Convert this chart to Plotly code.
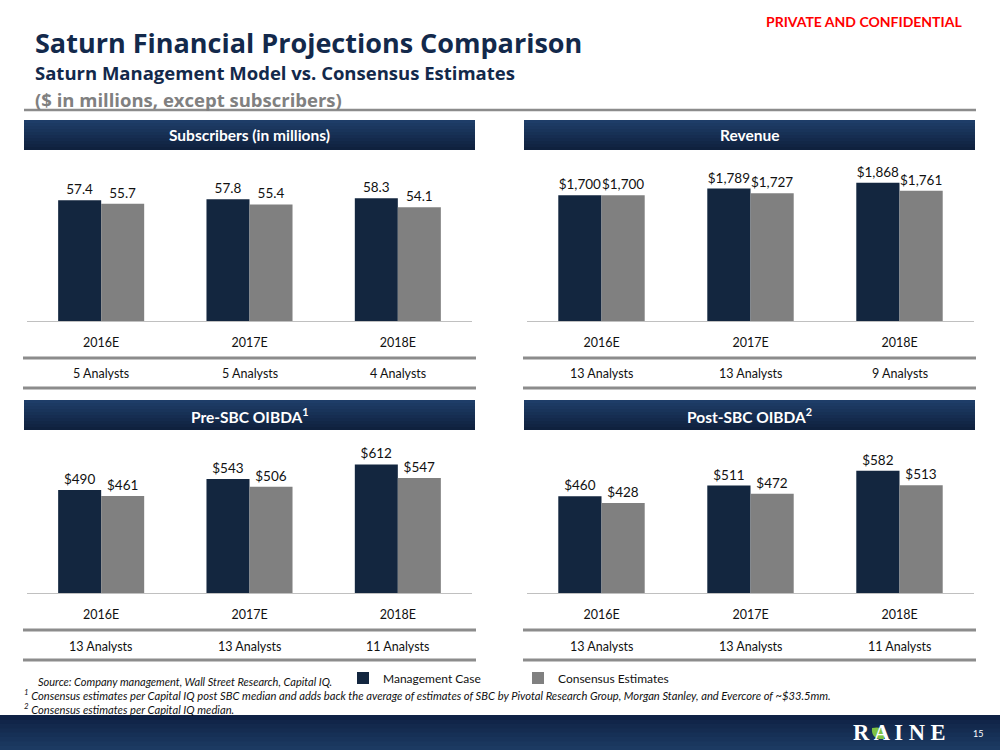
import plotly.graph_objects as go

# ---------------- data ----------------
years = ["2016E", "2017E", "2018E"]

subs_mgmt = [57.4, 57.8, 58.3]
subs_cons = [55.7, 55.4, 54.1]
rev_mgmt = [1700, 1789, 1868]
rev_cons = [1700, 1727, 1761]
pre_mgmt = [490, 543, 612]
pre_cons = [461, 506, 547]
post_mgmt = [460, 511, 582]
post_cons = [428, 472, 513]

subs_analysts = ["5 Analysts", "5 Analysts", "4 Analysts"]
rev_analysts = ["13 Analysts", "13 Analysts", "9 Analysts"]
pre_analysts = ["13 Analysts", "13 Analysts", "11 Analysts"]
post_analysts = ["13 Analysts", "13 Analysts", "11 Analysts"]

series_names = ["Management Case", "Consensus Estimates"]

# ---------------- styling ----------------
W, H = 1000, 750
NAVY = "#13263F"
GREY = "#808080"
FONT = "Lato"
TFONT = "Open Sans"


def px(x):
    return x / W


def py(y):
    return 1 - y / H


def hexmix(c1, c2, t):
    a = [int(c1[i:i + 2], 16) for i in (1, 3, 5)]
    b = [int(c2[i:i + 2], 16) for i in (1, 3, 5)]
    return "#%02x%02x%02x" % tuple(round(a[k] + (b[k] - a[k]) * t) for k in range(3))


panels = [
    dict(s="", mg=subs_mgmt, co=subs_cons, an=subs_analysts, fmt="%{y:.1f}",
         title="Subscribers (in millions)", x0=27, x1=472, bx0=24, bx1=475,
         hy0=120, hy1=150, top=160, base=321, ymax=76.5, l1=358, ay=374, l2=388),
    dict(s="2", mg=rev_mgmt, co=rev_cons, an=rev_analysts, fmt="$%{y:,.0f}",
         title="Revenue", x0=527, x1=974, bx0=524, bx1=975,
         hy0=120, hy1=150, top=160, base=321, ymax=2175, l1=358, ay=374, l2=388),
    dict(s="3", mg=pre_mgmt, co=pre_cons, an=pre_analysts, fmt="$%{y:,.0f}",
         title="Pre-SBC OIBDA<sup>1</sup>", x0=27, x1=472, bx0=24, bx1=475,
         hy0=400, hy1=430, top=440, base=593, ymax=728, l1=630, ay=646, l2=660),
    dict(s="4", mg=post_mgmt, co=post_cons, an=post_analysts, fmt="$%{y:,.0f}",
         title="Post-SBC OIBDA<sup>2</sup>", x0=527, x1=974, bx0=524, bx1=975,
         hy0=400, hy1=430, top=440, base=593, ymax=728, l1=630, ay=646, l2=660),
]

fig = go.Figure()
shapes = []
annotations = []
layout_axes = {}

for i, p in enumerate(panels):
    s = p["s"]
    for vals, name, color in ((p["mg"], series_names[0], NAVY), (p["co"], series_names[1], GREY)):
        fig.add_trace(go.Bar(
            x=years, y=vals, name=name, marker=dict(color=color, line=dict(width=0)),
            xaxis="x" + s, yaxis="y" + s, legendgroup=name, showlegend=(i == 0),
            texttemplate=p["fmt"], textposition="outside", cliponaxis=False,
            textfont=dict(size=13.5, color="#111111", family=FONT), hoverinfo="skip",
        ))
    layout_axes["xaxis" + s] = dict(
        domain=[px(p["x0"]), px(p["x1"])], anchor="y" + s, showline=True,
        linecolor="#c0c0c0", linewidth=1, ticks="outside", ticklen=10,
        tickcolor="rgba(0,0,0,0)", tickfont=dict(size=12.5, color="#111111", family=FONT),
        showgrid=False, zeroline=False, fixedrange=True,
    )
    layout_axes["yaxis" + s] = dict(
        domain=[py(p["base"]), py(p["top"])], anchor="x" + s, range=[0, p["ymax"]],
        visible=False, fixedrange=True,
    )
    # header bar with vertical gradient
    n = 10
    h0, h1 = p["hy0"], p["hy1"]
    for k in range(n):
        ya = h0 + (h1 - h0) * k / n
        yb = min(h1, h0 + (h1 - h0) * (k + 1) / n + 1)
        shapes.append(dict(type="rect", xref="paper", yref="paper",
                           x0=px(p["bx0"]), x1=px(p["bx1"]), y0=py(yb), y1=py(ya),
                           fillcolor=hexmix("#1e3d68", "#0f213e", k / (n - 1)),
                           line=dict(width=0), layer="below"))
    annotations.append(dict(xref="paper", yref="paper", x=px((p["bx0"] + p["bx1"]) / 2),
                            y=py((h0 + h1) / 2), text="<b>" + p["title"] + "</b>",
                            showarrow=False, xanchor="center", yanchor="middle",
                            font=dict(size=15.5, color="white", family=FONT)))
    # separator lines
    for ly in (p["l1"], p["l2"]):
        shapes.append(dict(type="line", xref="paper", yref="paper",
                           x0=px(p["bx0"] - 1), x1=px(p["bx1"] + 1), y0=py(ly), y1=py(ly),
                           line=dict(color="#8c8c8c", width=3)))
    # analyst counts
    for yr, txt in zip(years, p["an"]):
        annotations.append(dict(xref="x" + s, yref="paper", x=yr, y=py(p["ay"]),
                                text=txt, showarrow=False, xanchor="center", yanchor="middle",
                                font=dict(size=12.5, color="#111111", family=FONT)))

# ---------------- titles ----------------
annotations += [
    dict(xref="paper", yref="paper", x=px(33), y=py(42), xanchor="left", yanchor="middle",
         text="<b>Saturn Financial Projections Comparison</b>", showarrow=False,
         font=dict(size=27, color="#13294B", family=TFONT)),
    dict(xref="paper", yref="paper", x=px(33), y=py(73), xanchor="left", yanchor="middle",
         text="<b>Saturn Management Model vs. Consensus Estimates</b>", showarrow=False,
         font=dict(size=18.5, color="#13294B", family=TFONT)),
    dict(xref="paper", yref="paper", x=px(33), y=py(99), xanchor="left", yanchor="middle",
         text="<b>($ in millions, except subscribers)</b>", showarrow=False,
         font=dict(size=18.5, color="#808080", family=TFONT)),
    dict(xref="paper", yref="paper", x=px(964), y=py(22), xanchor="right", yanchor="middle",
         text="<b>PRIVATE AND CONFIDENTIAL</b>", showarrow=False,
         font=dict(size=14, color="#FF0000", family=FONT)),
    dict(xref="paper", yref="paper", x=px(36), y=py(681), xanchor="left", yanchor="middle",
         text="<i>Source: Company management, Wall Street Research, Capital IQ.</i>", showarrow=False,
         font=dict(size=11, color="#111111", family=FONT)),
    dict(xref="paper", yref="paper", x=px(22), y=py(694), xanchor="left", yanchor="middle",
         text="<i><sup>1</sup> Consensus estimates per Capital IQ post SBC median and adds back the average of "
              "estimates of SBC by Pivotal Research Group, Morgan Stanley, and Evercore of ~$33.5mm.</i>",
         showarrow=False, font=dict(size=11.2, color="#111111", family=FONT)),
    dict(xref="paper", yref="paper", x=px(22), y=py(708), xanchor="left", yanchor="middle",
         text="<i><sup>2</sup> Consensus estimates per Capital IQ median.</i>",
         showarrow=False, font=dict(size=11.2, color="#111111", family=FONT)),
    dict(xref="paper", yref="paper", x=px(899), y=py(732), xanchor="center", yanchor="middle",
         text="<b>R A I N E</b>", showarrow=False,
         font=dict(size=22.5, color="white", family="Liberation Serif")),
    dict(xref="paper", yref="paper", x=px(978), y=py(733), xanchor="center", yanchor="middle",
         text="15", showarrow=False, font=dict(size=9, color="white", family=FONT)),
]

# subtitle underline
shapes.append(dict(type="line", xref="paper", yref="paper", x0=px(24), x1=px(976),
                   y0=py(110), y1=py(110), line=dict(color="#8c8c8c", width=2.5)))

# footer bar gradient
n = 8
for k in range(n):
    ya = 715 + 35 * k / n
    yb = min(750, 715 + 35 * (k + 1) / n + 1.5)
    shapes.append(dict(type="rect", xref="paper", yref="paper", x0=0, x1=1,
                       y0=py(yb), y1=py(ya), fillcolor=hexmix("#0f2245", "#1c3a62", k / (n - 1)),
                       line=dict(width=0), layer="below"))

# leaf on the logo
leaf = "M {a},{b} Q {c},{d} {e},{f} Q {g},{h} {a},{b} Z".format(
    a=px(872), b=py(728), c=px(887), d=py(725), e=px(884), f=py(739), g=px(871), h=py(740))
shapes.append(dict(type="path", xref="paper", yref="paper", path=leaf,
                   fillcolor="#7DC242", line=dict(width=0)))

fig.update_layout(
    width=W, height=H, margin=dict(l=0, r=0, t=0, b=0),
    paper_bgcolor="white", plot_bgcolor="white",
    barmode="group", bargap=0.42, bargroupgap=0,
    font=dict(family=FONT, color="#111111"),
    showlegend=True,
    legend=dict(orientation="h", x=px(343), y=py(678), xanchor="left", yanchor="middle",
                font=dict(size=12, color="#111111", family=FONT), bgcolor="rgba(0,0,0,0)",
                itemwidth=30, traceorder="normal", entrywidth=130, entrywidthmode="pixels"),
    shapes=shapes, annotations=annotations,
    **layout_axes,
)

fig.write_html("out.html", config={"displayModeBar": False},
               post_script="document.body.style.margin='0';document.body.style.overflow='hidden';")
